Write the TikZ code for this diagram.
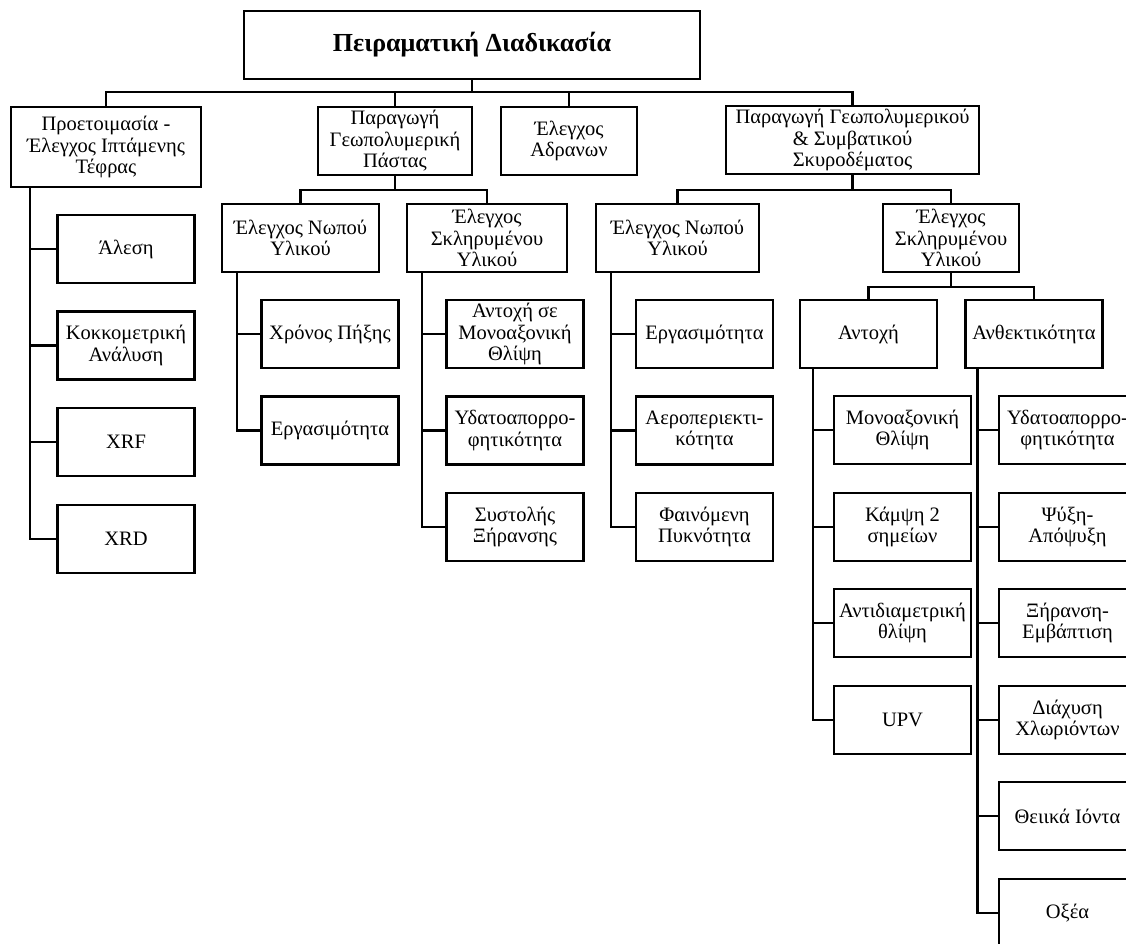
\documentclass[tikz,border=0pt]{standalone}
\usepackage{fontspec}
\setmainfont{Liberation Serif}
\begin{document}
\begin{tikzpicture}[
    x=1pt, y=-1pt,
    font=\fontsize{20.5}{21.5}\selectfont,
    box/.style={draw, line width=2.4pt, rectangle, minimum height=68pt, inner sep=0pt, align=center},
    leaf/.style={box, minimum width=137pt},
    link/.style={line width=2.4pt}
]
    \clip (0,0) rectangle (1126,944);

    \node[box, minimum width=456pt, font=\fontsize{26}{30}\selectfont\bfseries] (root) at (472,45) {Πειραματική Διαδικασία};

    \node[box, minimum width=190pt, minimum height=80pt] (prep) at (106,147) {Προετοιμασία -\\Έλεγχος Ιπτάμενης\\Τέφρας};
    \node[box, minimum width=154pt] (paste) at (395,141) {Παραγωγή\\Γεωπολυμερική\\Πάστας};
    \node[box, minimum width=136pt] (aggr) at (569,141) {Έλεγχος\\Αδρανων};
    \node[box, minimum width=253pt] (concr) at (852.5,140) {Παραγωγή Γεωπολυμερικού\\\& Συμβατικού\\Σκυροδέματος};

    \node[box, minimum width=157pt] (pfresh) at (300.5,238) {Έλεγχος Νωπού\\Υλικού};
    \node[box, minimum width=160pt] (phard) at (487,238) {Έλεγχος\\Σκληρυμένου\\Υλικού};
    \node[box, minimum width=163pt] (cfresh) at (677.5,238) {Έλεγχος Νωπού\\Υλικού};
    \node[box, minimum width=136pt] (chard) at (951,238) {Έλεγχος\\Σκληρυμένου\\Υλικού};

    \node[leaf] (strength) at (868.5,334) {Αντοχή};
    \node[leaf] (durab) at (1034,334) {Ανθεκτικότητα};

    \node[leaf] (grind) at (126,249) {Άλεση};
    \node[leaf] (grading) at (126,345.5) {Κοκκομετρική\\Ανάλυση};
    \node[leaf] (xrf) at (126,442) {XRF};
    \node[leaf] (xrd) at (126,539) {XRD};

    \node[leaf] (setting) at (330,334) {Χρόνος Πήξης};
    \node[leaf] (pwork) at (330,430.5) {Εργασιμότητα};

    \node[leaf] (pucs) at (515,334) {Αντοχή σε\\Μονοαξονική\\Θλίψη};
    \node[leaf] (pabs) at (515,430.5) {Υδατοαπορρο-\\φητικότητα};
    \node[leaf] (pshrink) at (515,527) {Συστολής\\Ξήρανσης};

    \node[leaf] (cwork) at (704.5,334) {Εργασιμότητα};
    \node[leaf] (cair) at (704.5,430.5) {Αεροπεριεκτι-\\κότητα};
    \node[leaf] (cdens) at (704.5,527) {Φαινόμενη\\Πυκνότητα};

    \node[leaf] (sucs) at (902.5,430) {Μονοαξονική\\Θλίψη};
    \node[leaf] (sflex) at (902.5,527) {Κάμψη 2\\σημείων};
    \node[leaf] (ssplit) at (902.5,623) {Αντιδιαμετρική\\θλίψη};
    \node[leaf] (supv) at (902.5,720) {UPV};

    \node[leaf] (dabs) at (1067.5,430) {Υδατοαπορρο-\\φητικότητα};
    \node[leaf] (dfreeze) at (1067.5,527) {Ψύξη-\\Απόψυξη};
    \node[leaf] (dwet) at (1067.5,623) {Ξήρανση-\\Εμβάπτιση};
    \node[leaf] (dchlor) at (1067.5,720) {Διάχυση\\Χλωριόντων};
    \node[leaf] (dsulf) at (1067.5,816) {Θειικά Ιόντα};
    \node[leaf] (dacid) at (1067.5,913) {Οξέα};

    \draw[link] (root.south) -- ++(0,12) -| (prep.north);
    \draw[link] (root.south) -- ++(0,12) -| (paste.north);
    \draw[link] (root.south) -- ++(0,12) -| (aggr.north);
    \draw[link] (root.south) -- ++(0,12) -| (concr.north);

    \draw[link] (paste.south) -- ++(0,14) -| (pfresh.north);
    \draw[link] (paste.south) -- ++(0,14) -| (phard.north);
    \draw[link] (concr.south) -- ++(0,15) -| (cfresh.north);
    \draw[link] (concr.south) -- ++(0,15) -| (chard.north);
    \draw[link] (chard.south) -- ++(0,14) -| (strength.north);
    \draw[link] (chard.south) -- ++(0,14) -| (durab.north);

    \draw[link] ([xshift=20pt]prep.south west) |- (grind.west);
    \draw[link] ([xshift=20pt]prep.south west) |- (grading.west);
    \draw[link] ([xshift=20pt]prep.south west) |- (xrf.west);
    \draw[link] ([xshift=20pt]prep.south west) |- (xrd.west);

    \draw[link] ([xshift=16pt]pfresh.south west) |- (setting.west);
    \draw[link] ([xshift=16pt]pfresh.south west) |- (pwork.west);

    \draw[link] ([xshift=16pt]phard.south west) |- (pucs.west);
    \draw[link] ([xshift=16pt]phard.south west) |- (pabs.west);
    \draw[link] ([xshift=16pt]phard.south west) |- (pshrink.west);

    \draw[link] ([xshift=16pt]cfresh.south west) |- (cwork.west);
    \draw[link] ([xshift=16pt]cfresh.south west) |- (cair.west);
    \draw[link] ([xshift=16pt]cfresh.south west) |- (cdens.west);

    \draw[link] ([xshift=14pt]strength.south west) |- (sucs.west);
    \draw[link] ([xshift=14pt]strength.south west) |- (sflex.west);
    \draw[link] ([xshift=14pt]strength.south west) |- (ssplit.west);
    \draw[link] ([xshift=14pt]strength.south west) |- (supv.west);

    \draw[link] ([xshift=13pt]durab.south west) |- (dabs.west);
    \draw[link] ([xshift=13pt]durab.south west) |- (dfreeze.west);
    \draw[link] ([xshift=13pt]durab.south west) |- (dwet.west);
    \draw[link] ([xshift=13pt]durab.south west) |- (dchlor.west);
    \draw[link] ([xshift=13pt]durab.south west) |- (dsulf.west);
    \draw[link] ([xshift=13pt]durab.south west) |- (dacid.west);
\end{tikzpicture}
\end{document}
